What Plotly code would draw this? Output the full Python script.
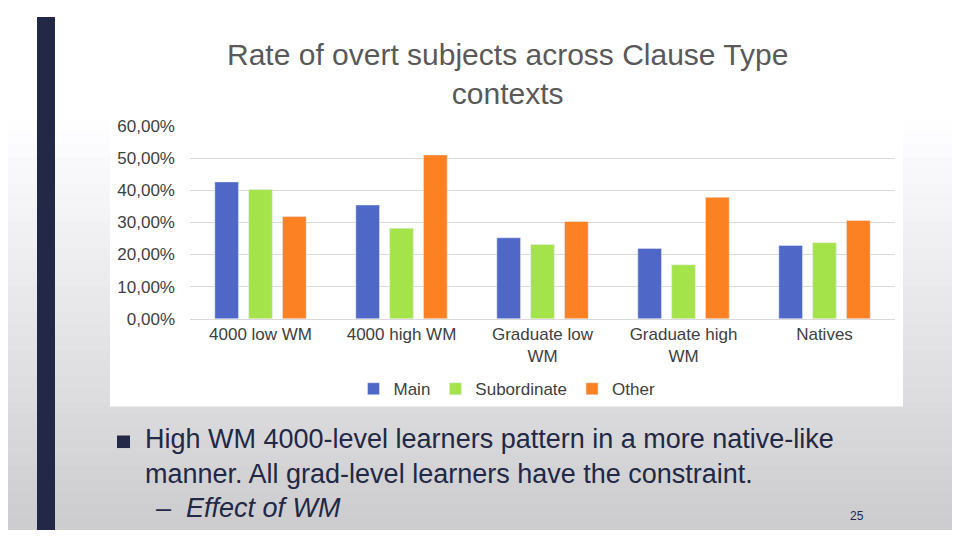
import plotly.graph_objects as go

categories = ["4000 low WM", "4000 high WM", "Graduate low<br>WM", "Graduate high<br>WM", "Natives"]
main = [0.426, 0.354, 0.252, 0.219, 0.228]
subordinate = [0.402, 0.282, 0.231, 0.168, 0.237]
other = [0.318, 0.510, 0.303, 0.378, 0.306]
yticks = [0, 0.1, 0.2, 0.3, 0.4, 0.5, 0.6]
yticklabels = ["0,00%", "10,00%", "20,00%", "30,00%", "40,00%", "50,00%", "60,00%"]

W, H = 952, 532
OFF = 8


def px(x):
    return (x - OFF) / W


def py(y):
    return 1 - (y - OFF) / H


fig = go.Figure()
for name, vals, col in [("Main", main, "#4F67C6"), ("Subordinate", subordinate, "#A5E34B"), ("Other", other, "#FB8122")]:
    fig.add_trace(go.Bar(x=categories, y=vals, name=name, marker_color=col))

shapes = []
n = 40
for i in range(n):
    t = i / (n - 1)
    v = int(255 - 50 * max(0, (t - 0.2) / 0.8))
    shapes.append(dict(type="rect", xref="paper", yref="paper", x0=0, x1=1, y0=1 - (i + 1) / n, y1=1 - i / n + 0.001,
                       fillcolor=f"rgb({v},{v},{v + 2})", line_width=0, layer="below"))
shapes.append(dict(type="rect", xref="paper", yref="paper", x0=px(37), x1=px(55), y0=0, y1=1,
                   fillcolor="#222845", line_width=0, layer="below"))
shapes.append(dict(type="rect", xref="paper", yref="paper", x0=px(110), x1=px(903), y0=py(412), y1=py(45),
                   fillcolor="white", line_width=0, layer="below"))
shapes.append(dict(type="rect", xref="paper", yref="paper", x0=px(117), x1=px(130), y0=py(455), y1=py(442),
                   fillcolor="#222845", line_width=0))

anns = [
    dict(text="Rate of overt subjects across Clause Type<br>contexts", x=px(507), y=py(67), xref="paper", yref="paper",
         showarrow=False, xanchor="center", yanchor="middle", font=dict(size=30, color="#595959")),
    dict(text="High WM 4000-level learners pattern in a more native-like<br>manner. All grad-level learners have the constraint.",
         x=px(143), y=py(464), xref="paper", yref="paper", showarrow=False, xanchor="left", yanchor="middle",
         align="left", font=dict(size=27, color="#222845")),
    dict(text="<i>–  Effect of WM</i>", x=px(153), y=py(517), xref="paper", yref="paper", showarrow=False,
         xanchor="left", yanchor="middle", font=dict(size=27, color="#222845")),
    dict(text="25", x=px(857), y=py(525), xref="paper", yref="paper", showarrow=False,
         xanchor="center", yanchor="middle", font=dict(size=12, color="#222845")),
]

fig.update_layout(
    width=W, height=H, margin=dict(l=0, r=0, t=0, b=0),
    paper_bgcolor="white", plot_bgcolor="rgba(0,0,0,0)",
    font=dict(family="Liberation Sans, Arial", color="#404040"),
    shapes=shapes, annotations=anns,
    bargap=0.28, bargroupgap=0.3,
    legend=dict(orientation="h", x=px(507), y=py(394), xanchor="center", yanchor="middle",
                font=dict(size=17, color="#404040"), bgcolor="rgba(0,0,0,0)", itemwidth=30),
    xaxis=dict(domain=[px(190), px(895)], tickfont=dict(size=17), ticks="", showline=True, linecolor="#d9d9d9"),
    yaxis=dict(domain=[py(321), py(121)], range=[0, 0.6], tickvals=yticks, ticktext=yticklabels,
               tickfont=dict(size=17), gridcolor="#d9d9d9", zeroline=False, ticklabelstandoff=14),
)
fig.write_html("out.html")
